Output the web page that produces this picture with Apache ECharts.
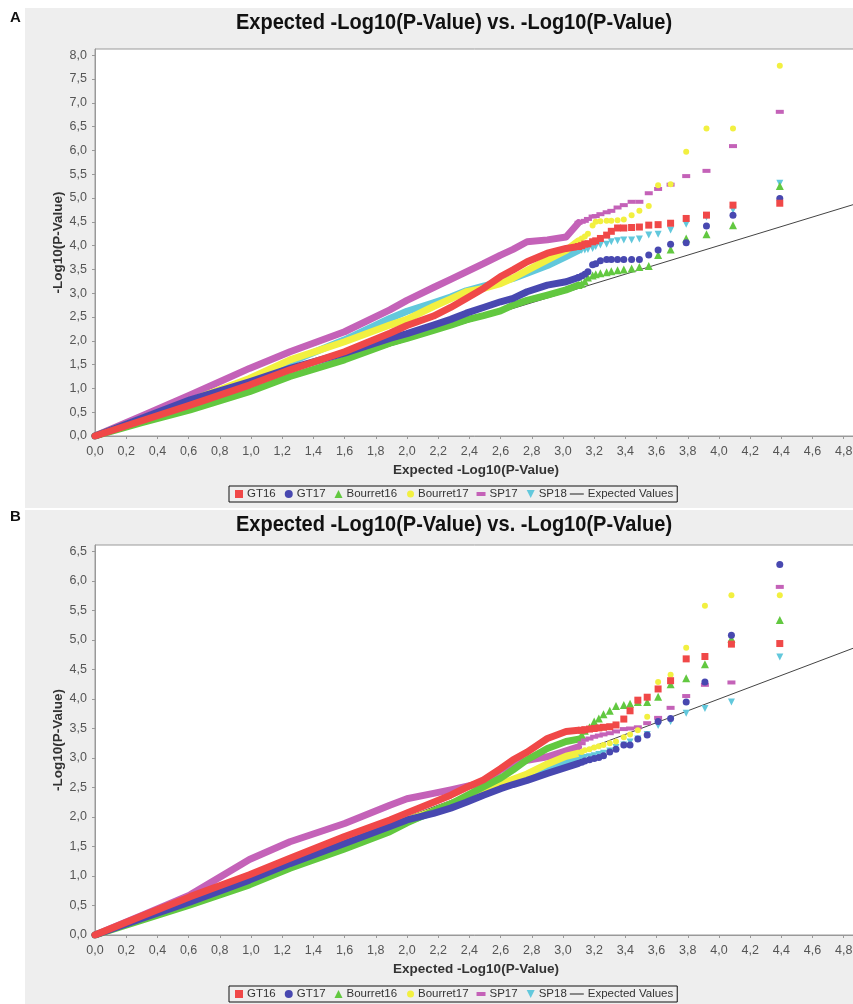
<!DOCTYPE html>
<html><head><meta charset="utf-8">
<script src="https://cdn.jsdelivr.net/npm/echarts@6/dist/echarts.min.js"></script>
<style>html,body{margin:0;padding:0;background:#fff}#c{width:853px;height:1004px}</style>
</head><body><div id="c"></div>
<script>
// ---------- DATA ----------
const seriesNames = ['GT16', 'GT17', 'Bourret16', 'Bourret17', 'SP17', 'SP18'];
const lineName = 'Expected Values';
const chartTitle = 'Expected -Log10(P-Value) vs. -Log10(P-Value)';
const xAxisTitle = 'Expected -Log10(P-Value)';
const yAxisTitle = '-Log10(P-Value)';
const panelLabels = ['A', 'B'];

// dense part (expected values on x)
const denseX = [0, 0.3, 0.61, 0.99, 1.25, 1.6, 1.89, 2.0, 2.17, 2.28, 2.38, 2.49, 2.6, 2.68, 2.77, 2.9, 3.02, 3.1];
// Panel A dense observed values
const A_GT16      = [0, 0.32, 0.65, 1.07, 1.39, 1.77, 2.16, 2.32, 2.52, 2.70, 2.89, 3.10, 3.35, 3.49, 3.66, 3.84, 3.94, 3.98];
const A_GT17      = [0, 0.37, 0.76, 1.14, 1.42, 1.74, 2.05, 2.15, 2.33, 2.45, 2.58, 2.70, 2.82, 2.89, 3.03, 3.17, 3.24, 3.33];
const A_Bourret16 = [0, 0.28, 0.55, 0.93, 1.25, 1.60, 1.95, 2.05, 2.22, 2.33, 2.44, 2.53, 2.63, 2.75, 2.85, 2.96, 3.07, 3.17];
const A_Bourret17 = [0, 0.36, 0.74, 1.21, 1.60, 1.98, 2.33, 2.45, 2.72, 2.88, 3.03, 3.10, 3.20, 3.32, 3.48, 3.70, 3.90, 4.10];
const A_SP17      = [0, 0.42, 0.86, 1.42, 1.77, 2.19, 2.65, 2.85, 3.12, 3.29, 3.45, 3.62, 3.80, 3.92, 4.08, 4.12, 4.18, 4.48];
const A_SP18      = [0, 0.36, 0.72, 1.19, 1.55, 2.02, 2.47, 2.62, 2.80, 2.92, 3.05, 3.15, 3.24, 3.31, 3.42, 3.58, 3.77, 3.90];
// Panel B dense observed values
const B_GT16      = [0, 0.32, 0.65, 1.02, 1.30, 1.67, 1.95, 2.07, 2.25, 2.37, 2.50, 2.63, 2.82, 2.97, 3.10, 3.33, 3.45, 3.47];
const B_GT17      = [0, 0.28, 0.56, 0.93, 1.21, 1.55, 1.84, 1.95, 2.06, 2.15, 2.25, 2.37, 2.48, 2.55, 2.62, 2.74, 2.84, 2.91];
const B_Bourret16 = [0, 0.25, 0.51, 0.85, 1.13, 1.46, 1.75, 1.90, 2.10, 2.22, 2.36, 2.51, 2.66, 2.80, 2.97, 3.16, 3.28, 3.32];
const B_Bourret17 = [0, 0.29, 0.58, 0.95, 1.22, 1.56, 1.83, 1.95, 2.10, 2.22, 2.35, 2.47, 2.56, 2.64, 2.73, 2.90, 3.03, 3.08];
const B_SP17      = [0, 0.33, 0.68, 1.28, 1.58, 1.89, 2.20, 2.31, 2.40, 2.46, 2.52, 2.58, 2.80, 2.90, 2.96, 3.02, 3.12, 3.19];
const B_SP18      = [0, 0.29, 0.57, 0.93, 1.18, 1.52, 1.80, 1.92, 2.08, 2.18, 2.30, 2.42, 2.50, 2.58, 2.68, 2.80, 2.92, 2.99];

// sparse tail (top-ranked points)
const tailX_A = [4.39, 4.09, 3.92, 3.79, 3.69, 3.61, 3.55, 3.49, 3.44, 3.39, 3.35, 3.31, 3.28, 3.24, 3.21, 3.19, 3.16, 3.14, 3.12, 3.10];
const tailA_GT16      = [4.89, 4.85, 4.64, 4.57, 4.47, 4.44, 4.43, 4.39, 4.38, 4.37, 4.37, 4.30, 4.22, 4.15, 4.10, 4.08, 4.04, 4.03, 4.00, 3.98];
const tailA_GT17      = [4.99, 4.64, 4.41, 4.06, 4.03, 3.91, 3.80, 3.71, 3.71, 3.71, 3.71, 3.71, 3.71, 3.68, 3.62, 3.60, 3.45, 3.40, 3.36, 3.33];
const tailA_Bourret16 = [5.25, 4.43, 4.24, 4.15, 3.92, 3.80, 3.57, 3.55, 3.52, 3.50, 3.48, 3.46, 3.44, 3.42, 3.40, 3.37, 3.33, 3.25, 3.20, 3.17];
const tailA_Bourret17 = [7.78, 6.46, 6.46, 5.97, 5.29, 5.27, 4.83, 4.73, 4.64, 4.55, 4.53, 4.52, 4.52, 4.51, 4.50, 4.42, 4.25, 4.19, 4.15, 4.10];
const tailA_SP17      = [6.81, 6.09, 5.57, 5.46, 5.28, 5.19, 5.10, 4.92, 4.92, 4.85, 4.80, 4.73, 4.70, 4.66, 4.62, 4.61, 4.56, 4.52, 4.50, 4.48];
const tailA_SP18      = [5.31, 4.75, 4.60, 4.45, 4.33, 4.24, 4.22, 4.14, 4.12, 4.12, 4.10, 4.08, 4.03, 4.01, 3.98, 3.94, 3.92, 3.91, 3.90, 3.90];

const tailX_B = [4.39, 4.08, 3.91, 3.79, 3.69, 3.61, 3.54, 3.48, 3.43, 3.39, 3.34, 3.30, 3.26, 3.23, 3.20, 3.17, 3.14, 3.12];
const tailB_GT16      = [4.94, 4.93, 4.72, 4.68, 4.31, 4.17, 4.03, 3.98, 3.80, 3.66, 3.56, 3.53, 3.52, 3.51, 3.50, 3.49, 3.48, 3.47];
const tailB_GT17      = [6.28, 5.08, 4.29, 3.95, 3.67, 3.62, 3.39, 3.32, 3.22, 3.22, 3.15, 3.10, 3.04, 3.01, 2.99, 2.97, 2.95, 2.93];
const tailB_Bourret16 = [5.34, 5.02, 4.59, 4.35, 4.25, 4.04, 3.95, 3.95, 3.92, 3.90, 3.88, 3.80, 3.74, 3.67, 3.62, 3.52, 3.46, 3.40];
const tailB_Bourret17 = [5.76, 5.76, 5.58, 4.87, 4.41, 4.29, 3.70, 3.47, 3.40, 3.35, 3.28, 3.25, 3.22, 3.20, 3.18, 3.15, 3.13, 3.10];
const tailB_SP17      = [5.90, 4.28, 4.24, 4.05, 3.85, 3.68, 3.59, 3.52, 3.50, 3.49, 3.45, 3.42, 3.40, 3.38, 3.36, 3.33, 3.31, 3.25];
const tailB_SP18      = [4.71, 3.95, 3.84, 3.76, 3.62, 3.55, 3.40, 3.32, 3.27, 3.22, 3.18, 3.12, 3.08, 3.06, 3.04, 3.02, 3.01, 3.00];

// expected line end points (y = x)
const expectedLine = [[0, 0], [4.885, 4.885]];

// ---------- STYLE ----------
const colors = ['#f04848', '#4848b0', '#62c840', '#f2f040', '#c462b8', '#62c8dc'];
const symbols = ['rect', 'circle', 'triangle', 'circle', 'rect', 'triangle'];
const symSizes = [7, 7, 8, 6, [8, 4], 7];
const symRot = [0, 0, 0, 0, 0, 180];
const legendIcons = [
  'path://M0,0M0,8M6,0h8v8h-8z',
  'path://M0,0M0,8M6,4a4,4 0 1,0 8,0a4,4 0 1,0 -8,0z',
  'path://M0,0M0,8M6,8L10,0L14,8z',
  'path://M0,0M0,8M7,4a3.5,3.5 0 1,0 7,0a3.5,3.5 0 1,0 -7,0z',
  'path://M0,0M0,8M5,2h9v4h-9z',
  'path://M0,0M0,8M6,0L14,0L10,8z'
];
const lineIcon = 'path://M0,0M0,8M0,3.4h14v1.2h-14z';

const denseA = [A_GT16, A_GT17, A_Bourret16, A_Bourret17, A_SP17, A_SP18];
const denseB = [B_GT16, B_GT17, B_Bourret16, B_Bourret17, B_SP17, B_SP18];
const tailA = [tailA_GT16, tailA_GT17, tailA_Bourret16, tailA_Bourret17, tailA_SP17, tailA_SP18];
const tailB = [tailB_GT16, tailB_GT17, tailB_Bourret16, tailB_Bourret17, tailB_SP17, tailB_SP18];

const FONT = "'Liberation Sans', Arial, sans-serif";
const fmt = v => v.toFixed(1).replace('.', ',');

const panels = [
  {top: 49, height: 387, ymax: 8.13, dense: denseA, tail: tailA, tailX: tailX_A, titleY: 23, legendTop: 486, labelTop: 10},
  {top: 545, height: 390, ymax: 6.61, dense: denseB, tail: tailB, tailX: tailX_B, titleY: 525, legendTop: 986, labelTop: 509}
];

const grids = [], xAxes = [], yAxes = [], series = [], legends = [], graphics = [];

panels.forEach((p, pi) => {
  graphics.push({type: 'rect', left: 25, top: pi === 0 ? 8 : 510, z: -100,
    shape: {width: 828, height: pi === 0 ? 500 : 494}, style: {fill: '#eeeeee'}});
  graphics.push({type: 'text', left: 10, top: p.labelTop, z: 10,
    style: {text: panelLabels[pi], font: "bold 15px " + FONT, fill: '#111'}});
  graphics.push({type: 'text', x: 454, y: p.titleY, scaleX: 0.91, z: 10,
    style: {text: chartTitle, font: "bold 22px " + FONT, fill: '#111', align: 'center', verticalAlign: 'middle'}});
  grids.push({left: 95, top: p.top, width: 762, height: p.height, show: true,
    outerBoundsMode: 'none', containLabel: false,
    backgroundColor: '#ffffff', borderColor: '#9a9a9a', borderWidth: 1});
  xAxes.push({type: 'value', gridIndex: pi, min: 0, max: 4.885, interval: 0.2,
    name: xAxisTitle, nameLocation: 'middle', nameGap: 27, nameMoveOverlap: false,
    nameTextStyle: {fontFamily: FONT, fontWeight: 'bold', fontSize: 13.5, color: '#333'},
    axisLine: {lineStyle: {color: '#999'}}, axisTick: {show: true, length: 3, lineStyle: {color: '#999'}},
    splitLine: {show: false},
    axisLabel: {formatter: fmt, color: '#555', fontFamily: FONT, fontSize: 12.5, margin: 9, showMaxLabel: false}});
  yAxes.push({type: 'value', gridIndex: pi, min: 0, max: p.ymax, interval: 0.5,
    name: yAxisTitle, nameLocation: 'middle', nameGap: 30, nameRotate: 90, nameMoveOverlap: false,
    nameTextStyle: {fontFamily: FONT, fontWeight: 'bold', fontSize: 13.5, color: '#333'},
    axisLine: {show: true, lineStyle: {color: '#999'}}, axisTick: {show: true, length: 3, lineStyle: {color: '#999'}},
    splitLine: {show: false},
    axisLabel: {formatter: fmt, color: '#555', fontFamily: FONT, fontSize: 12.5, margin: 8, showMaxLabel: false}});
  const ldata = seriesNames.map((n, i) => ({name: n, icon: legendIcons[i]}));
  ldata.push({name: lineName, icon: lineIcon});
  legends.push({data: ldata, left: 229, top: p.legendTop, itemWidth: 14, itemHeight: 8, itemGap: 3,
    orient: 'horizontal', padding: [2, 4, 2, 0], borderColor: '#111', borderWidth: 1,
    textStyle: {fontFamily: FONT, fontSize: 11.5, color: '#333', padding: [0, 0, 0, -1]},
    selectedMode: false});

  series.push({type: 'line', name: lineName, xAxisIndex: pi, yAxisIndex: pi, data: expectedLine,
    symbol: 'none', lineStyle: {color: '#444', width: 1}, itemStyle: {color: '#444'}, silent: true, z: 1});
  for (let i = seriesNames.length - 1; i >= 0; i--) {
    const dd = denseX.map((x, k) => [x, p.dense[i][k]]);
    series.push({type: 'line', name: seriesNames[i], xAxisIndex: pi, yAxisIndex: pi, data: dd,
      symbol: 'none', smooth: false, silent: true,
      lineStyle: {color: colors[i], width: 7, cap: 'round', join: 'round'}, itemStyle: {color: colors[i]}, z: 2});
    const td = p.tailX.map((x, k) => [x, p.tail[i][k]]).filter(d => d[1] != null);
    series.push({type: 'scatter', name: seriesNames[i], xAxisIndex: pi, yAxisIndex: pi, data: td,
      symbol: symbols[i], symbolSize: symSizes[i], symbolRotate: symRot[i], silent: true,
      itemStyle: {color: colors[i], opacity: 1}, z: 2});
  }
});

const chart = echarts.init(document.getElementById('c'), null, {renderer: 'canvas'});
chart.setOption({
  animation: false,
  backgroundColor: '#ffffff',
  legend: legends,
  grid: grids,
  xAxis: xAxes,
  yAxis: yAxes,
  graphic: graphics,
  series: series
});
</script></body></html>
